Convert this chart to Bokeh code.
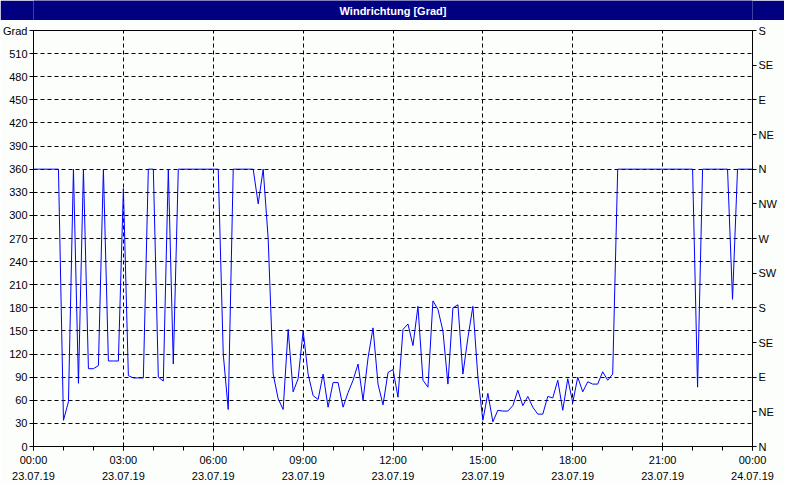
from bokeh.plotting import figure
from bokeh.models import LinearAxis, FixedTicker, Range1d, BoxAnnotation
from bokeh.layouts import column
from bokeh.embed import file_html
from bokeh.resources import INLINE
from bokeh.core.properties import value

# ---------------- data ----------------
title_text = "Windrichtung [Grad]"

# wind direction [deg], one reading every 10 minutes, 23.07.19 00:00 .. 24.07.19 00:00
direction = [
    360, 360, 360, 360, 360, 360, 34, 58, 360, 82,
    360, 101, 101, 105, 360, 111, 111, 111, 335, 92,
    89, 89, 89, 360, 360, 90, 85, 360, 107, 360,
    360, 360, 360, 360, 360, 360, 360, 360, 120, 48,
    360, 360, 360, 360, 360, 315, 360, 270, 94, 62,
    48, 152, 71, 88, 150, 94, 66, 61, 94, 51,
    83, 83, 51, 70, 86, 107, 60, 115, 154, 81,
    54, 96, 100, 64, 152, 159, 131, 182, 86, 77,
    189, 178, 150, 81, 180, 184, 94, 141, 182, 90,
    34, 69, 32, 47, 46, 46, 53, 73, 53, 65,
    51, 42, 42, 65, 63, 86, 47, 88, 57, 90,
    71, 84, 81, 81, 97, 86, 94, 360, 360, 360,
    360, 360, 360, 360, 360, 360, 360, 360, 360, 360,
    360, 360, 360, 77, 360, 360, 360, 360, 360, 360,
    191, 360, 360, 360, 360,
]
hours = [i / 6 for i in range(len(direction))]  # time axis in hours since 23.07.19 00:00

x_ticks = [0, 3, 6, 9, 12, 15, 18, 21, 24]
x_minor_ticks = list(range(0, 25))
x_tick_labels = ["00:00\n23.07.19", "03:00\n23.07.19", "06:00\n23.07.19",
                 "09:00\n23.07.19", "12:00\n23.07.19", "15:00\n23.07.19",
                 "18:00\n23.07.19", "21:00\n23.07.19", "00:00\n24.07.19"]

y_ticks = list(range(0, 541, 30))
y_tick_labels = [str(v) for v in range(0, 511, 30)] + ["Grad"]

compass_ticks = list(range(0, 541, 45))
compass_labels = ["N", "NE", "E", "SE", "S", "SW", "W", "NW",
                  "N", "NE", "E", "SE", "S"]

# ---------------- styling ----------------
BG = "#FBFEFB"
NAVY = "#000080"
FONT = "Liberation Sans"
FS = "11px"

# title bar
t = figure(width=784, height=20, x_range=Range1d(0, 1), y_range=Range1d(0, 1),
           x_axis_type=None, y_axis_type=None, toolbar_location=None,
           output_backend="svg", min_border=0,
           background_fill_color=NAVY, border_fill_color=NAVY,
           outline_line_color=None)
t.grid.visible = False
t.text(x=[0.5], y=[0.5], text=[title_text], text_align="center",
       text_baseline="middle", text_color="white",
       text_font=value(FONT), text_font_size="11px", text_font_style="bold")

# main chart
p = figure(width=784, height=464, x_range=Range1d(0, 24), y_range=Range1d(0, 540),
           toolbar_location=None, output_backend="svg",
           min_border_left=32, min_border_right=32,
           min_border_top=10, min_border_bottom=37,
           background_fill_color=BG, border_fill_color=BG,
           outline_line_color="black")

p.line(hours, direction, line_color="#0000FF", line_width=1)

xax = p.xaxis[0]
xax.ticker = FixedTicker(ticks=x_ticks, minor_ticks=x_minor_ticks)
xax.major_label_overrides = {k: v for k, v in zip(x_ticks, x_tick_labels)}

yax = p.yaxis[0]
yax.ticker = FixedTicker(ticks=y_ticks)
yax.major_label_overrides = {k: v for k, v in zip(y_ticks, y_tick_labels)}

rax = LinearAxis(ticker=FixedTicker(ticks=compass_ticks))
rax.major_label_overrides = {k: v for k, v in zip(compass_ticks, compass_labels)}
p.add_layout(rax, "right")

for ax in (xax, yax, rax):
    ax.axis_line_color = "black"
    ax.axis_line_width = 1
    ax.major_tick_line_color = "black"
    ax.major_tick_in = 0
    ax.major_tick_out = 4
    ax.minor_tick_in = 0
    ax.minor_tick_out = 4
    ax.minor_tick_line_color = None
    ax.major_label_text_font = FONT
    ax.major_label_text_font_size = FS
    ax.major_label_text_color = "black"
    ax.major_label_standoff = 2
xax.minor_tick_line_color = "black"
xax.major_label_standoff = 3
xax.major_label_text_line_height = 1.35

for g in (p.xgrid[0], p.ygrid[0]):
    g.grid_line_color = "black"
    g.grid_line_dash = "4 3"
    g.grid_line_width = 1
p.ygrid[0].ticker = yax.ticker

# window frame (navy lines left, right and bottom)
for l, r, b, tp in [(-32, -30, -37, 427), (750, 752, -37, 427), (-32, 752, -37, -35)]:
    p.add_layout(BoxAnnotation(left=l, right=r, bottom=b, top=tp,
                               left_units="screen", right_units="screen",
                               bottom_units="screen", top_units="screen",
                               fill_color=NAVY, fill_alpha=1, line_color=None))

layout = column(t, p, spacing=0)
open("out.html", "w").write(file_html(layout, INLINE))
